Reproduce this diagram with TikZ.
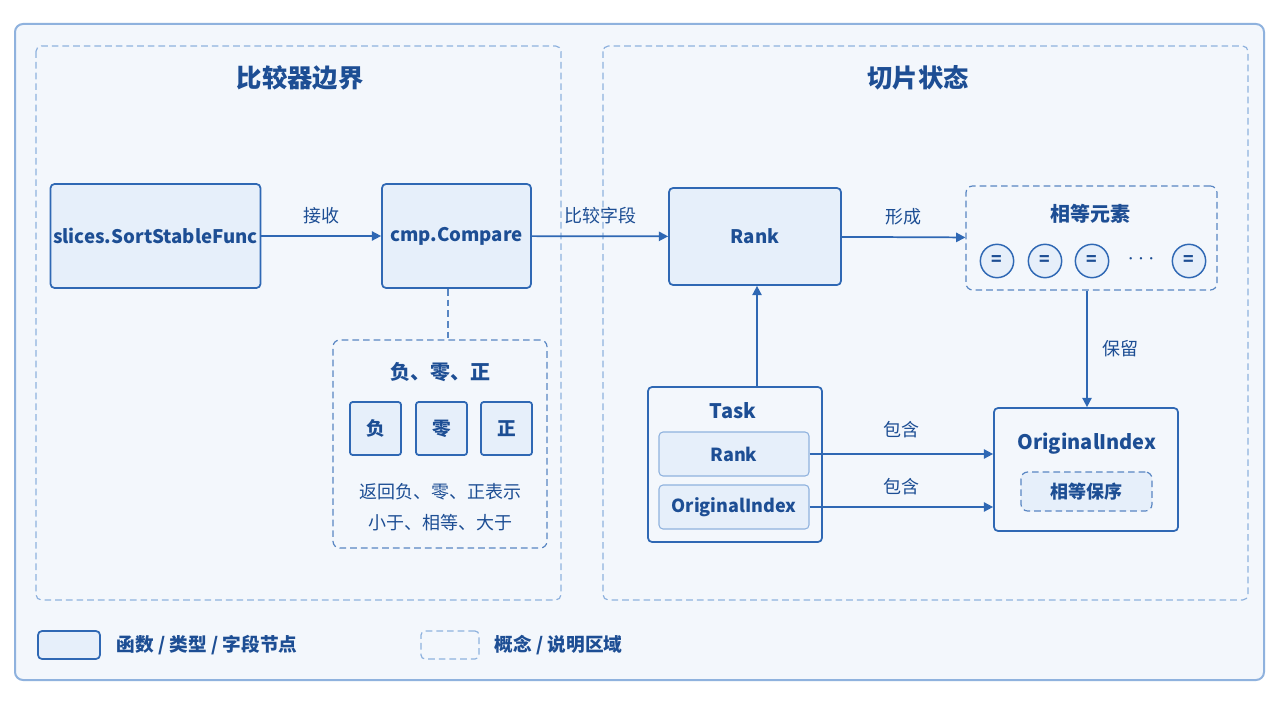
\documentclass[tikz,border=0pt]{standalone}
\usepackage{fontspec}
\setmainfont{Noto Sans CJK SC}
\usetikzlibrary{arrows.meta}
\definecolor{ln}{HTML}{2F68B4}
\definecolor{tx}{HTML}{1D4E94}
\definecolor{bg}{HTML}{F3F7FC}
\definecolor{nf}{HTML}{E6EFFA}
\definecolor{rg}{HTML}{8FB2DE}
\begin{document}
\begin{tikzpicture}[x=0.75pt,y=-0.75pt,
 box/.style={draw=ln,line width=1.3pt,fill=nf,rounded corners=3pt,text=tx,font=\fontsize{14}{16}\selectfont\bfseries},
 sub/.style={draw=rg,line width=0.8pt,fill=nf,rounded corners=3pt,text=tx,font=\fontsize{13.5}{16}\selectfont\bfseries},
 dbox/.style={draw=ln!80,line width=0.9pt,dash pattern=on 5pt off 3pt,rounded corners=5pt,fill=bg},
 region/.style={draw=rg,line width=0.9pt,dash pattern=on 5pt off 3pt,rounded corners=4pt},
 arr/.style={draw=ln,line width=1.3pt,-{Triangle[length=7pt,width=7pt]}},
 lbl/.style={text=tx,font=\fontsize{13.5}{16}\selectfont},
 ttl/.style={text=tx,font=\fontsize{19}{22}\selectfont\bfseries},
 circ/.style={circle,draw=ln,line width=1.1pt,fill=nf,minimum size=25pt,inner sep=0pt,text=tx,font=\fontsize{13}{15}\selectfont\bfseries}]
\fill[white] (0,0) rectangle (1280,702);
\useasboundingbox (0,0) rectangle (1280,702);
\draw[rg,line width=1.5pt,fill=bg,rounded corners=6pt] (15,24) rectangle (1264,680);
\draw[region] (36,46) rectangle (561,600);
\draw[region] (603,46) rectangle (1248,600);
\node[ttl] (t1) at (300,78) {比较器边界};
\node[ttl] (t2) at (918,78) {切片状态};
% left
\node[box,inner sep=2pt,minimum width=207*0.75pt,minimum height=104*0.75pt] (ssf) at (155.5,236) {slices.SortStableFunc};
\node[box,minimum width=149*0.75pt,minimum height=104*0.75pt] (cmp) at (456.5,236) {cmp.Compare};
\draw[arr] (ssf) -- node[lbl,above=5pt]{接收} (cmp);
\node[dbox,minimum width=214*0.75pt,minimum height=208*0.75pt] (nz) at (440,444) {};
\draw[ln!80,line width=0.9pt,dash pattern=on 5pt off 3pt] (cmp.south -| 448,0) -- (nz.north -| 448,0);
\node[text=tx,font=\fontsize{15}{17}\selectfont\bfseries] (nzt) at (440,372) {负、零、正};
\node[box,minimum width=51*0.75pt,minimum height=53*0.75pt,rounded corners=2pt] (b1) at (375.5,428.5) {负};
\node[box,minimum width=51*0.75pt,minimum height=53*0.75pt,rounded corners=2pt] (b2) at (441.5,428.5) {零};
\node[box,minimum width=51*0.75pt,minimum height=53*0.75pt,rounded corners=2pt] (b3) at (506.5,428.5) {正};
\node[lbl,align=center,font=\fontsize{13.5}{23}\selectfont] (nzd) at (440,507) {返回负、零、正表示\\小于、相等、大于};
% right
\node[box,minimum width=172*0.75pt,minimum height=97*0.75pt] (rank) at (755,236.5) {Rank};
\draw[arr] (cmp) -- node[lbl,above=5pt]{比较字段} (rank);
\node[dbox,minimum width=251*0.75pt,minimum height=104*0.75pt] (eq) at (1091.5,238) {};
\node[text=tx,font=\fontsize{15}{17}\selectfont\bfseries] (eqt) at (1090,214) {相等元素};
\node[circ] (c1) at (997,261) {=};
\node[circ] (c2) at (1045,261) {=};
\node[circ] (c3) at (1092,261) {=};
\node[text=tx,font=\fontsize{18}{18}\selectfont\bfseries] (c4) at (1141,259) {$\cdots$};
\node[circ] (c5) at (1189,261) {=};
\draw[arr] (rank) -- node[lbl,above=5pt]{形成} (eq);
\node[box,fill=bg,minimum width=184*0.75pt,minimum height=123*0.75pt] (oi) at (1086,469.5) {};
\node[text=tx,font=\fontsize{15}{17}\selectfont\bfseries] (oit) at (1087,444) {OriginalIndex};
\node[dbox,fill=nf,minimum width=131*0.75pt,minimum height=39*0.75pt,text=tx,font=\fontsize{13.5}{16}\selectfont\bfseries] (eo) at (1086.5,491.5) {相等保序};
\draw[arr] (eq.south -| 1087,0) -- node[lbl,right=8pt]{保留} (oi.north -| 1087,0);
\node[box,fill=bg,minimum width=174*0.75pt,minimum height=155*0.75pt] (task) at (735,464.5) {};
\node[text=tx,font=\fontsize{15}{17}\selectfont\bfseries] (tt) at (733,411) {Task};
\node[sub,minimum width=150*0.75pt,minimum height=44*0.75pt] (tr) at (734,454) {Rank};
\node[sub,minimum width=150*0.75pt,minimum height=44*0.75pt] (to) at (734,507) {OriginalIndex};
\draw[arr] (tr.east) -- node[lbl,above=8pt]{包含} (tr.east -| oi.west);
\draw[arr] (to.east) -- node[lbl,above=5pt]{包含} (to.east -| oi.west);
\draw[arr] (task.north -| 757,0) -- (rank.south -| 757,0);
% legend
\node[draw=ln,line width=1.3pt,fill=nf,rounded corners=3pt,minimum width=62*0.75pt,minimum height=28*0.75pt] (lg1) at (69,645) {};
\node[anchor=west,text=tx,font=\fontsize{14}{16}\selectfont\bfseries] (lt1) at (112,645) {函数 / 类型 / 字段节点};
\node[draw=rg,line width=0.9pt,dash pattern=on 5pt off 3pt,rounded corners=3pt,minimum width=58*0.75pt,minimum height=28*0.75pt] (lg2) at (450,645) {};
\node[anchor=west,text=tx,font=\fontsize{14}{16}\selectfont\bfseries] (lt2) at (490,645) {概念 / 说明区域};
\end{tikzpicture}
\end{document}
